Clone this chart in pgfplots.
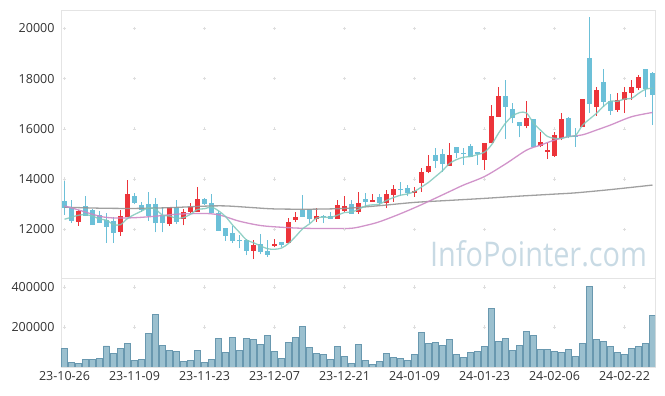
\documentclass[border=0pt]{standalone}
\usepackage{fontspec}
\setmainfont{Open Sans}
\usepackage{graphicx}
\usepackage{pgfplots}
\usepackage{pgfplotstable}
\pgfplotsset{compat=1.18}

\definecolor{upred}{RGB}{236,52,58}
\definecolor{dnblue}{RGB}{108,192,216}
\definecolor{volfill}{RGB}{155,192,207}
\definecolor{voledge}{RGB}{105,152,175}
\definecolor{mafive}{RGB}{128,200,188}
\definecolor{matwenty}{RGB}{204,136,196}
\definecolor{masixty}{RGB}{150,150,150}
\definecolor{framec}{RGB}{228,228,228}
\definecolor{wm}{RGB}{200,218,228}
\definecolor{lbl}{RGB}{51,51,51}
\definecolor{gridp}{RGB}{222,222,222}

\pgfplotsset{candle/.style={forget plot, draw=none, no markers, mark=none,
  error bars/.cd, y dir=plus, y explicit, error mark=none}}

% i O H L C
\pgfplotstableread{
i O H L C
2 12300 12770 12140 12740
8 11900 12770 11750 12520
9 12480 13950 12480 13400
15 12210 12900 12150 12880
17 12400 12800 12160 12680
18 12700 13040 12660 12880
19 12700 13680 12700 13210
27 11140 11580 10810 11380
30 11340 11600 11280 11410
32 11440 12440 11440 12290
33 12370 12700 12280 12490
36 12410 12840 12300 12530
39 12410 13170 12410 12960
40 12740 13310 12700 12930
42 12700 13500 12620 13040
44 13100 13390 13100 13180
46 13040 13570 12840 13390
47 13370 13770 13100 13600
50 13460 13700 13300 13540
51 13860 14430 13500 14270
52 14290 14960 14230 14520
55 14530 15420 14530 14960
60 14760 15420 14360 15420
61 15420 16930 15420 16510
62 16480 17650 16480 17300
66 16110 17110 16020 16430
68 15330 15880 15260 15480
69 15090 15450 14790 15160
70 14920 15880 14890 15750
71 15620 16620 15550 16390
74 16080 17190 16080 17190
76 16880 17650 16510 17540
79 16750 17410 16680 17150
80 17150 17680 16620 17450
81 17440 17940 17150 17650
82 17610 18150 17540 18060
}\up

\pgfplotstableread{
i O H L C
0 13130 13920 12570 12850
1 12840 13170 12260 12340
3 12920 13310 12540 12540
4 12760 12810 12170 12170
5 12560 12720 12240 12260
6 12380 12640 11470 12100
7 12330 12500 11470 11870
10 13330 13460 12990 13050
11 12970 13100 12700 12770
12 13010 13490 12340 12530
13 13010 13250 11880 12230
14 12570 12900 11880 12240
16 12880 13170 12200 12300
20 13210 13260 12970 13010
21 13040 13390 12640 12640
22 12640 12720 11940 11940
23 12050 12050 11540 11740
24 11850 12130 11450 11540
25 11570 11790 11240 11520
26 11570 11620 10960 11140
28 11410 11810 11000 11110
29 11140 11570 10910 10980
31 11490 11490 11280 11380
34 12780 13370 12480 12500
35 12810 12810 12240 12410
37 12530 12570 12240 12500
38 12530 12700 12410 12410
41 13000 13170 12620 12620
43 13210 13450 12900 13100
45 13270 13390 12960 13040
48 13600 13880 13310 13570
49 13630 13760 13310 13430
53 14960 15220 14430 14730
54 15000 15200 14300 14610
56 15280 15280 14830 15050
57 15040 15250 14560 14990
58 15320 15400 14870 14870
59 15060 15060 14560 15010
63 17300 17930 15590 16880
64 16790 17015 16220 16420
65 16270 16270 15660 16120
67 16390 16390 15290 15290
72 16420 16480 15620 15690
73 15720 16020 15290 15680
75 18810 20440 16620 16980
77 17860 18370 16880 17080
78 17110 17370 16550 16720
83 18370 18370 17280 17570
84 18220 18270 16150 17350
}\down

\pgfplotstableread{
i V
0 92000
1 22000
2 17000
3 37000
4 37000
5 42000
6 105000
7 67000
8 92000
9 117000
10 32000
11 37000
12 167000
13 262000
14 107000
15 82000
16 77000
17 27000
18 32000
19 82000
20 22000
21 37000
22 142000
23 72000
24 147000
25 82000
26 142000
27 137000
28 112000
29 157000
30 77000
31 42000
32 122000
33 147000
34 202000
35 97000
36 67000
37 62000
38 37000
39 103000
40 52000
41 17000
42 112000
43 32000
44 12000
45 27000
46 67000
47 47000
48 42000
49 32000
50 62000
51 172000
52 117000
53 122000
54 107000
55 137000
56 62000
57 47000
58 72000
59 77000
60 103000
61 292000
62 127000
63 142000
64 82000
65 107000
66 177000
67 157000
68 87000
69 87000
70 77000
71 72000
72 87000
73 52000
74 117000
75 403000
76 137000
77 127000
78 103000
79 72000
80 62000
81 92000
82 103000
83 117000
84 257000
}\vol

\begin{document}
\begin{tikzpicture}
\path[use as bounding box] (0pt,0pt) rectangle (665pt,-396pt);

\begin{axis}[
  anchor=north west, at={(61pt,-10pt)},
  width=594pt, height=268pt, scale only axis,
  xmin=-0.5, xmax=84.36, ymin=10060, ymax=20730,
  xtick={0,10,...,80}, xticklabels={},
  ytick={12000,14000,...,20000},
  major tick length=0pt,
  axis line style={framec, line width=0.8pt},
  tick label style={font=\fontsize{12.5}{14}\selectfont, text=lbl},
  yticklabel style={xshift=-3pt},
  /pgf/number format/assume math mode=true,
  /pgf/number format/fixed,
  /pgf/number format/1000 sep={},
  scaled y ticks=false,
  clip=true,
]
\addplot[forget plot, only marks, mark=+, mark size=1.6pt, gridp] coordinates {
(0,12000)(10,12000)(20,12000)(30,12000)(40,12000)(50,12000)(60,12000)(70,12000)(80,12000)
(0,14000)(10,14000)(20,14000)(30,14000)(40,14000)(50,14000)(60,14000)(70,14000)(80,14000)
(0,16000)(10,16000)(20,16000)(30,16000)(40,16000)(50,16000)(60,16000)(70,16000)(80,16000)
(0,18000)(10,18000)(20,18000)(30,18000)(40,18000)(50,18000)(60,18000)(70,18000)(80,18000)
(0,20000)(10,20000)(20,20000)(30,20000)(40,20000)(50,20000)(60,20000)(70,20000)(80,20000)
};
\node[anchor=base west, inner sep=0pt, text=wm, font=\fontsize{34}{40}\selectfont] at (rel axis cs:0.621,0.042) {\scalebox{0.85}[1]{InfoPointer.com}};

% wicks
\addplot[candle, error bar style={draw=upred, line width=1pt}]
  table[x=i, y=L, y error plus expr=\thisrow{H}-\thisrow{L}] {\up};
\addplot[candle, error bar style={draw=dnblue, line width=1pt}]
  table[x=i, y=L, y error plus expr=\thisrow{H}-\thisrow{L}] {\down};
% bodies
\addplot[candle, error bar style={draw=upred, line width=5pt}]
  table[x=i, y=O, y error plus expr=\thisrow{C}-\thisrow{O}] {\up};
\addplot[candle, error bar style={draw=dnblue, line width=5pt}]
  table[x=i, y=C, y error plus expr=\thisrow{O}-\thisrow{C}] {\down};

% MA60
\addplot[masixty, line width=1.3pt, smooth, mark=none, opacity=0.9] coordinates {
(0,12880)(5,12840)(10,12830)(15,12860)(20,12920)(23,12930)(27,12860)(30,12810)(35,12800)(40,12830)(45,12940)(50,13070)(55,13150)(60,13230)(65,13320)(70,13400)(73,13450)(78,13580)(84,13760)
};
% MA20
\addplot[matwenty, line width=1.3pt, smooth, mark=none, opacity=0.9] coordinates {
(0,12930)(2,12770)(5,12520)(7,12450)(10,12460)(13,12520)(16,12600)(20,12630)(22,12580)(23,12500)(25,12320)(28,12150)(31,12080)(34,12040)(38,12030)(41,12040)(43,12150)(45,12300)(48,12620)(51,12980)(55,13500)(57,13760)(60,14100)(63,14600)(66,15150)(68,15350)(70,15550)(72,15690)(74,15760)(76,15950)(78,16150)(81,16480)(84,16650)
};
% MA5
\addplot[mafive, line width=1.3pt, smooth, mark=none, opacity=0.85] coordinates {
(0,12400)(1,12480)(2,12560)(3,12580)(4,12528)(5,12410)(6,12362)(7,12188)(8,12184)(9,12430)
(10,12588)(11,12722)(12,12854)(13,12796)(14,12564)(15,12530)(16,12436)(17,12466)(18,12596)(19,12790)
(20,12816)(21,12884)(22,12736)(23,12508)(24,12174)(25,11876)(26,11576)(27,11464)(28,11338)(29,11226)
(30,11204)(31,11252)(32,11434)(33,11710)(34,12014)(35,12214)(36,12444)(37,12486)(38,12470)(39,12562)
(40,12666)(41,12684)(42,12792)(43,12930)(44,12974)(45,12996)(46,13150)(47,13262)(48,13356)(49,13406)
(50,13506)(51,13682)(52,13866)(53,14098)(54,14334)(55,14618)(56,14774)(57,14868)(58,14896)(59,14976)
(60,15068)(61,15360)(62,15822)(63,16224)(64,16506)(65,16646)(66,16630)(67,16228)(68,15948)(69,15696)
(70,15622)(71,15614)(72,15694)(73,15734)(74,16140)(75,16386)(76,16616)(77,16894)(78,17102)(79,17094)
(80,17188)(81,17210)(82,17406)(83,17576)(84,17616)
};
\end{axis}

\begin{axis}[
  anchor=north west, at={(61pt,-278pt)},
  width=594pt, height=89pt, scale only axis,
  xmin=-0.5, xmax=84.36, ymin=0, ymax=445000,
  xtick={0,10,...,80},
  xticklabels={23-10-26,23-11-09,23-11-23,23-12-07,23-12-21,24-01-09,24-01-23,24-02-06,24-02-22},
  ytick={200000,400000},
  major tick length=0pt,
  axis line style={framec, line width=0.8pt},
  tick label style={font=\fontsize{12.5}{14}\selectfont, text=lbl},
  yticklabel style={xshift=-3pt},
  xticklabel style={yshift=-1pt},
  /pgf/number format/assume math mode=true,
  /pgf/number format/fixed,
  /pgf/number format/1000 sep={},
  scaled y ticks=false,
]
\addplot[forget plot, only marks, mark=+, mark size=1.6pt, gridp] coordinates {
(0,200000)(10,200000)(20,200000)(30,200000)(40,200000)(50,200000)(60,200000)(70,200000)(80,200000)
(0,400000)(10,400000)(20,400000)(30,400000)(40,400000)(50,400000)(60,400000)(70,400000)(80,400000)
};
\addplot[ybar, bar width=6pt, bar shift=0pt, fill=volfill, draw=voledge, line width=0.6pt]
  table[x=i, y=V] {\vol};
\end{axis}
\end{tikzpicture}
\end{document}
